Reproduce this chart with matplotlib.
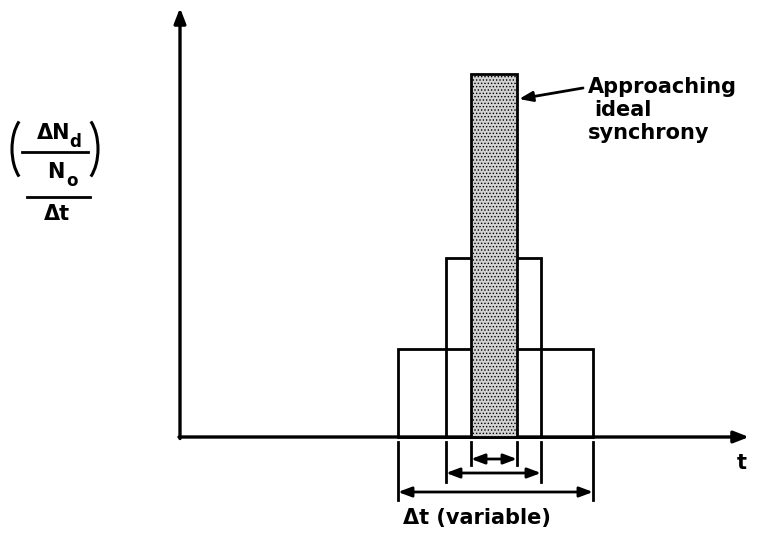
import matplotlib.pyplot as plt
from matplotlib.patches import Rectangle, Arc

# pulse widths (left, right) and heights, in drawing units (baseline = 437)
pulse_left = [398, 446, 471]
pulse_right = [593, 541, 517]
pulse_top = [349, 258, 74]
baseline = 437

# dimension arrows under the axis
dim_y = [492, 473, 459]
dim_ext_bottom = [500, 482, 465]

plt.rcParams['hatch.color'] = '#5a5a5a'
plt.rcParams['hatch.linewidth'] = 0.6

fig = plt.figure(figsize=(7.71, 5.36), dpi=100)
ax = fig.add_axes([0, 0, 1, 1])
ax.set_xlim(0, 771)
ax.set_ylim(536, 0)
ax.axis('off')

lw = 2.0
fnt = dict(family='DejaVu Sans', weight='bold', color='black')

# axes with arrow heads
ax.annotate('', xy=(180, 8), xytext=(180, baseline + 1.5),
            arrowprops=dict(arrowstyle='-|>,head_length=0.9,head_width=0.35',
                            lw=2.4, color='black', shrinkA=0, shrinkB=0))
ax.annotate('', xy=(749, baseline), xytext=(179, baseline),
            arrowprops=dict(arrowstyle='-|>,head_length=0.9,head_width=0.35',
                            lw=2.4, color='black', shrinkA=0, shrinkB=0))

# pulses
for i in range(3):
    w = pulse_right[i] - pulse_left[i]
    h = baseline - pulse_top[i]
    if i == 2:
        ax.add_patch(Rectangle((pulse_left[i], pulse_top[i]), w, h,
                               facecolor='#d2d2d2', edgecolor='black',
                               hatch='.....', lw=lw, zorder=3))
    else:
        ax.add_patch(Rectangle((pulse_left[i], pulse_top[i]), w, h,
                               fill=False, edgecolor='black', lw=lw, zorder=2))

# dimension lines
for i in range(3):
    for x in (pulse_left[i], pulse_right[i]):
        ax.plot([x, x], [baseline + 5, dim_ext_bottom[i]], color='black', lw=lw)
    ax.annotate('', xy=(pulse_right[i], dim_y[i]), xytext=(pulse_left[i], dim_y[i]),
                arrowprops=dict(arrowstyle='<|-|>,head_length=0.8,head_width=0.3',
                                lw=lw, color='black', shrinkA=0, shrinkB=0))

ax.text(477, 518, '\u0394t (variable)', ha='center', va='center', fontsize=15, **fnt)
ax.text(742, 463, 't', ha='center', va='center', fontsize=15, **fnt)

# annotation for the narrow pulse
ax.annotate('', xy=(519, 99), xytext=(583, 88),
            arrowprops=dict(arrowstyle='-|>,head_length=0.8,head_width=0.3',
                            lw=lw, color='black', shrinkA=0, shrinkB=0))
ax.text(588, 87, 'Approaching', ha='left', va='center', fontsize=15, **fnt)
ax.text(594, 110, 'ideal', ha='left', va='center', fontsize=15, **fnt)
ax.text(588, 133, 'synchrony', ha='left', va='center', fontsize=15, **fnt)

# y label: (dNd / No) / dt
ax.text(54, 133, '\u0394N', ha='center', va='center', fontsize=15, **fnt)
ax.text(75, 142, 'd', ha='center', va='center', fontsize=12, **fnt)
ax.plot([22, 88], [152, 152], color='black', lw=lw)
ax.text(56, 172, 'N', ha='center', va='center', fontsize=15, **fnt)
ax.text(72, 181, 'o', ha='center', va='center', fontsize=12, **fnt)
ax.add_patch(Arc((32, 149), 40, 72, theta1=115, theta2=245, lw=2.2, color='black'))
ax.add_patch(Arc((78, 149), 40, 72, theta1=-65, theta2=65, lw=2.2, color='black'))
ax.plot([27, 90], [197, 197], color='black', lw=lw)
ax.text(57, 214, '\u0394t', ha='center', va='center', fontsize=15, **fnt)

fig.savefig('out.png', dpi=100)
